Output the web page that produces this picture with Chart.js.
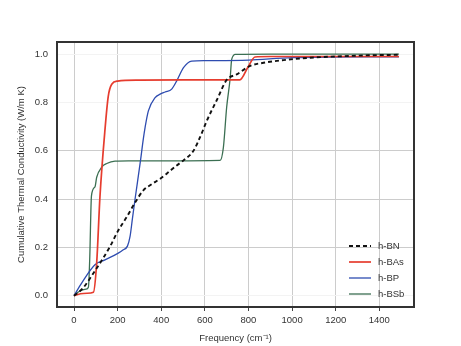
<!DOCTYPE html>
<html><head><meta charset="utf-8">
<script src="https://cdn.jsdelivr.net/npm/chart.js@4/dist/chart.umd.min.js"></script>
<style>html,body{margin:0;padding:0;background:#fff;}</style>
</head><body>
<canvas id="c" width="461" height="346"></canvas>
<script>
// ---- data ----
const seriesLabels = ['h-BN', 'h-BAs', 'h-BP', 'h-BSb'];

const freqBN = [0, 40, 89, 130, 165, 200, 242, 280, 318, 349, 395, 425, 471, 502, 548, 578, 609, 655, 700, 746, 808, 869, 960, 1083, 1200, 1350, 1490];
const kBN    = [0, 0.03, 0.093, 0.15, 0.203, 0.265, 0.326, 0.385, 0.436, 0.457, 0.484, 0.505, 0.539, 0.56, 0.6, 0.656, 0.724, 0.81, 0.893, 0.916, 0.951, 0.964, 0.975, 0.985, 0.99, 0.995, 0.997];

const freqBAs = [0, 30, 60, 89, 104, 119, 142, 157, 173, 200, 300, 500, 760, 800, 830, 900, 1100, 1490];
const kBAs    = [0, 0.008, 0.01, 0.014, 0.136, 0.41, 0.687, 0.825, 0.875, 0.888, 0.892, 0.893, 0.893, 0.95, 0.988, 0.99, 0.99, 0.99];

const freqBP = [0, 35, 96, 142, 203, 226, 245, 257, 268, 280, 305, 318, 326, 341, 372, 395, 418, 448, 471, 502, 540, 600, 800, 1000, 1490];
const kBP    = [0, 0.052, 0.128, 0.148, 0.176, 0.19, 0.205, 0.245, 0.32, 0.4, 0.56, 0.65, 0.697, 0.765, 0.82, 0.834, 0.843, 0.855, 0.889, 0.944, 0.971, 0.973, 0.975, 0.985, 0.989];

const freqBSb = [0, 25, 55, 66, 72, 80, 96, 104, 127, 150, 188, 250, 400, 670, 685, 700, 716, 723, 740, 900, 1490];
const kBSb    = [0, 0.018, 0.027, 0.035, 0.15, 0.413, 0.45, 0.49, 0.532, 0.547, 0.557, 0.558, 0.558, 0.56, 0.614, 0.78, 0.9, 0.978, 0.999, 1.0, 1.0];

const xTicks = [0, 200, 400, 600, 800, 1000, 1200, 1400];
const yTicks = [0.0, 0.2, 0.4, 0.6, 0.8, 1.0];

// ---- build ----
const toPts = (xs, ys) => xs.map((x, i) => ({x: x, y: ys[i]}));
const FONT = '"Liberation Sans", Arial, sans-serif';
const TXT = '#333';

const styles = [
  {color: '#111111', width: 1.9, dash: [4, 3]},
  {color: '#e63c2e', width: 1.7, dash: []},
  {color: '#2e4cb0', width: 1.3, dash: []},
  {color: '#3b6f52', width: 1.3, dash: []}
];
const xs = [freqBN, freqBAs, freqBP, freqBSb];
const ys = [kBN, kBAs, kBP, kBSb];

const datasets = seriesLabels.map((lab, i) => ({
  label: lab,
  data: toPts(xs[i], ys[i]),
  showLine: true,
  borderColor: styles[i].color,
  backgroundColor: styles[i].color,
  borderWidth: styles[i].width,
  borderDash: styles[i].dash,
  pointRadius: 0,
  cubicInterpolationMode: 'monotone',
  fill: false
}));

const frame = {
  id: 'frame',
  afterDatasetsDraw(chart) {
    const {ctx, chartArea: a} = chart;
    ctx.save();
    // legend
    ctx.font = '9.5px ' + FONT;
    ctx.textBaseline = 'middle';
    ctx.textAlign = 'left';
    chart.data.datasets.forEach((d, i) => {
      const y = 246 + i * 16;
      ctx.beginPath();
      ctx.strokeStyle = d.borderColor;
      ctx.lineWidth = d.borderWidth;
      ctx.setLineDash(d.borderDash || []);
      ctx.moveTo(349, y);
      ctx.lineTo(371, y);
      ctx.stroke();
      ctx.setLineDash([]);
      ctx.fillStyle = TXT;
      ctx.fillText(d.label, 378, y + 0.5);
    });
    // frame
    ctx.strokeStyle = '#333';
    ctx.lineWidth = 2;
    ctx.strokeRect(a.left, a.top, a.right - a.left, a.bottom - a.top);
    ctx.restore();
  }
};

new Chart(document.getElementById('c'), {
  type: 'scatter',
  data: {datasets: datasets},
  plugins: [frame],
  options: {
    responsive: false,
    animation: false,
    devicePixelRatio: 1,
    layout: {padding: {top: 42, right: 47, left: 0, bottom: 0}},
    plugins: {legend: {display: false}, tooltip: {enabled: false}},
    scales: {
      x: {
        type: 'linear', min: -78, max: 1559,
        afterBuildTicks: s => { s.ticks = xTicks.map(v => ({value: v})); },
        afterFit: s => { s.height = 39; },
        border: {display: false},
        grid: {color: '#cccccc', lineWidth: 1, drawTicks: true, tickLength: 4, tickColor: '#444'},
        ticks: {color: TXT, font: {family: FONT, size: 9.5}, padding: 4, maxRotation: 0,
                callback: v => String(v)},
        title: {display: true, text: 'Frequency (cm⁻¹)', color: TXT,
                font: {family: FONT, size: 9.5}, padding: {top: 0, bottom: 2}}
      },
      y: {
        type: 'linear', min: -0.047, max: 1.05,
        afterBuildTicks: s => { s.ticks = yTicks.map(v => ({value: v})); },
        afterFit: s => { s.width = 57; },
        border: {display: false},
        grid: {
          color: c => {
            const v = c.tick ? Math.round(c.tick.value * 10) / 10 : null;
            return (v === 0 || v === 0.8 || v === 1) ? '#f3f3f3' : '#cccccc';
          },
          lineWidth: 1, drawTicks: false
        },
        ticks: {color: TXT, font: {family: FONT, size: 9.5}, padding: 9,
                callback: v => Number(v).toFixed(1)},
        title: {display: true, text: 'Cumulative Thermal Conductivity (W/m K)', color: TXT,
                font: {family: FONT, size: 9.5}, padding: {top: 16, bottom: 0}}
      }
    }
  }
});
</script>
</body></html>
